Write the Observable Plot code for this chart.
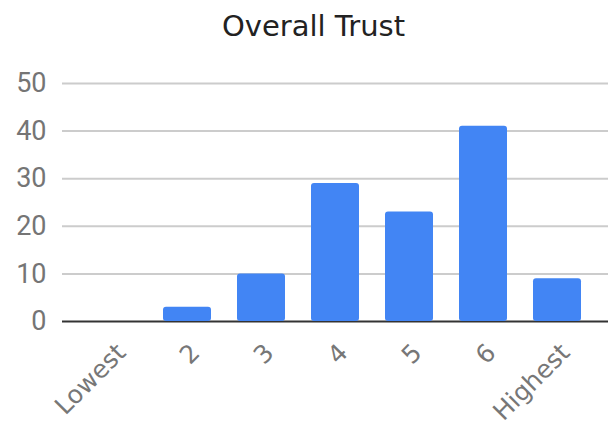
<!DOCTYPE html>
<html>
<head>
<meta charset="utf-8">
<script src="https://cdn.jsdelivr.net/npm/d3@7"></script>
<script src="https://cdn.jsdelivr.net/npm/@observablehq/plot@0.6"></script>
<style>
  html, body { margin: 0; padding: 0; background: #fff; }
  #title { height: 50px; line-height: 52px; text-align: center; font-family: "DejaVu Sans", sans-serif; font-size: 29px; color: #222; padding-left: 19px; }
</style>
</head>
<body>
<div id="title">Overall Trust</div>
<div id="chart"></div>
<script>
const categories = ["Lowest", "2", "3", "4", "5", "6", "Highest"];
const counts = [0, 3, 10, 29, 23, 41, 9];
const yTicks = [0, 10, 20, 30, 40, 50];

const data = categories.map((c, i) => ({category: c, count: counts[i]}));

const chart = Plot.plot({
  width: 608,
  height: 382,
  marginTop: 33,
  marginBottom: 111,
  marginLeft: 62,
  marginRight: 0,
  style: {background: "#fff"},
  x: {domain: categories, padding: 0.355, label: null},
  y: {domain: [0, 50], label: null},
  marks: [
    Plot.ruleY(yTicks.filter(d => d > 0), {stroke: "#cccccc", strokeWidth: 2}),
    Plot.ruleY([0], {stroke: "#333333", strokeWidth: 2}),
    Plot.barY(data, {x: "category", y: "count", fill: "#4285F4", rx: 3}),
    Plot.axisY(yTicks, {tickSize: 0, tickPadding: 16, fontSize: 27, fill: "#757575", fontFamily: "Roboto, sans-serif"}),
    Plot.axisX({tickSize: 0, tickPadding: 27, dx: 8, tickRotate: -45, fontSize: 25, fill: "#777777", fontFamily: "DejaVu Sans, sans-serif"})
  ]
});
document.getElementById("chart").appendChild(chart);
</script>
</body>
</html>
